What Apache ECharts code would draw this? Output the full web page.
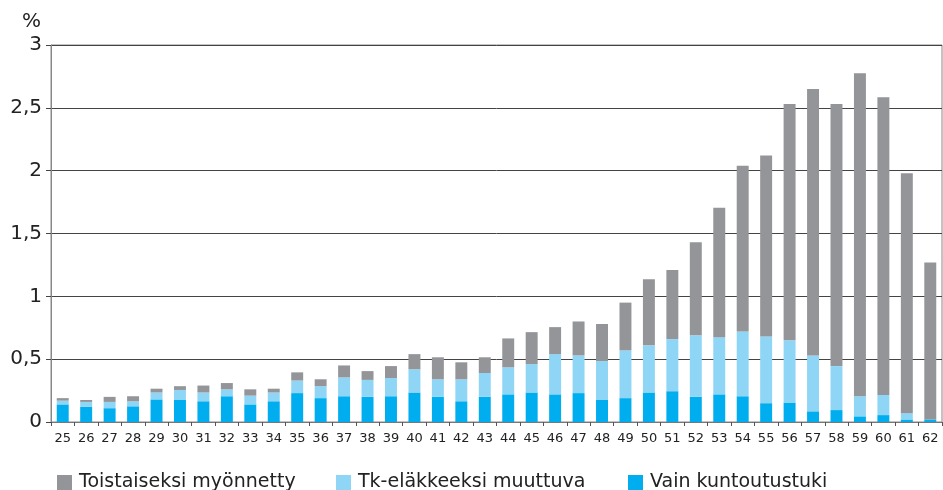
<!DOCTYPE html>
<html>
<head>
<meta charset="utf-8">
<script src="https://cdn.jsdelivr.net/npm/echarts@6/dist/echarts.min.js"></script>
<style>
html,body{margin:0;padding:0;background:#fff;}
#chart{width:943px;height:490px;}
</style>
</head>
<body>
<div id="chart"></div>
<script>
const categories = ['25','26','27','28','29','30','31','32','33','34','35','36','37','38','39','40','41','42','43','44','45','46','47','48','49','50','51','52','53','54','55','56','57','58','59','60','61','62'];
const vainKuntoutustuki = [0.14,0.12,0.11,0.125,0.18,0.175,0.165,0.205,0.14,0.165,0.23,0.19,0.205,0.2,0.205,0.235,0.2,0.165,0.2,0.22,0.235,0.22,0.23,0.175,0.19,0.235,0.245,0.2,0.22,0.205,0.15,0.155,0.085,0.095,0.045,0.055,0.02,0.02];
const tkElakkeeksiMuuttuva = [0.03,0.04,0.05,0.04,0.055,0.08,0.07,0.055,0.07,0.07,0.1,0.095,0.15,0.135,0.145,0.185,0.14,0.175,0.19,0.215,0.225,0.32,0.3,0.31,0.38,0.375,0.415,0.49,0.455,0.515,0.53,0.495,0.445,0.35,0.16,0.16,0.05,0.0];
const toistaiseksiMyonnetty = [0.02,0.015,0.04,0.04,0.03,0.03,0.055,0.05,0.05,0.03,0.065,0.055,0.095,0.07,0.095,0.12,0.175,0.135,0.125,0.23,0.255,0.215,0.27,0.295,0.38,0.525,0.55,0.74,1.03,1.32,1.44,1.88,2.12,2.085,2.57,2.37,1.91,1.25];
const yTicks = {min: 0, max: 3, interval: 0.5};
const seriesNames = ['Toistaiseksi myönnetty', 'Tk-eläkkeeksi muuttuva', 'Vain kuntoutustuki'];

const FONT = "'DejaVu Sans', sans-serif";
const chart = echarts.init(document.getElementById('chart'), null, {renderer: 'canvas'});
const legendCommon = {
  orient: 'horizontal', top: 468, icon: 'rect', itemWidth: 15, itemHeight: 15,
  textStyle: {fontFamily: FONT, fontSize: 19, color: '#222', padding: [0, 0, 0, 2]},
  selectedMode: false
};
chart.setOption({
  animation: false,
  title: {text: '%', left: 17, top: 7, textStyle: {fontFamily: FONT, fontSize: 20, fontWeight: 'normal', color: '#222'}},
  legend: [
    Object.assign({}, legendCommon, {left: 52, data: [seriesNames[0]]}),
    Object.assign({}, legendCommon, {left: 331, data: [seriesNames[1]]}),
    Object.assign({}, legendCommon, {left: 623, data: [seriesNames[2]]})
  ],
  grid: {left: 51, right: 1, top: 45, bottom: 68, show: true, borderColor: '#888', borderWidth: 1, backgroundColor: 'transparent'},
  xAxis: {
    type: 'category', data: categories, boundaryGap: true,
    axisLine: {lineStyle: {color: '#777', width: 1}},
    axisTick: {show: true, length: 4, lineStyle: {color: '#555'}},
    axisLabel: {fontFamily: FONT, fontSize: 13, color: '#222', margin: 10, interval: 0}
  },
  yAxis: {
    type: 'value', min: yTicks.min, max: yTicks.max, interval: yTicks.interval,
    axisLine: {show: true, lineStyle: {color: '#888', width: 1}},
    axisTick: {show: true, length: 5, lineStyle: {color: '#444'}},
    splitLine: {lineStyle: {color: '#444', width: 1}},
    axisLabel: {fontFamily: FONT, fontSize: 20, color: '#222', margin: 9,
      formatter: v => String(v).replace('.', ',')}
  },
  series: [
    {name: seriesNames[2], type: 'bar', stack: 'a', data: vainKuntoutustuki, barWidth: '51%', itemStyle: {color: '#00adef'}},
    {name: seriesNames[1], type: 'bar', stack: 'a', data: tkElakkeeksiMuuttuva, itemStyle: {color: '#8fd6f6'}},
    {name: seriesNames[0], type: 'bar', stack: 'a', data: toistaiseksiMyonnetty, itemStyle: {color: '#939598'}}
  ]
});
</script>
</body>
</html>
